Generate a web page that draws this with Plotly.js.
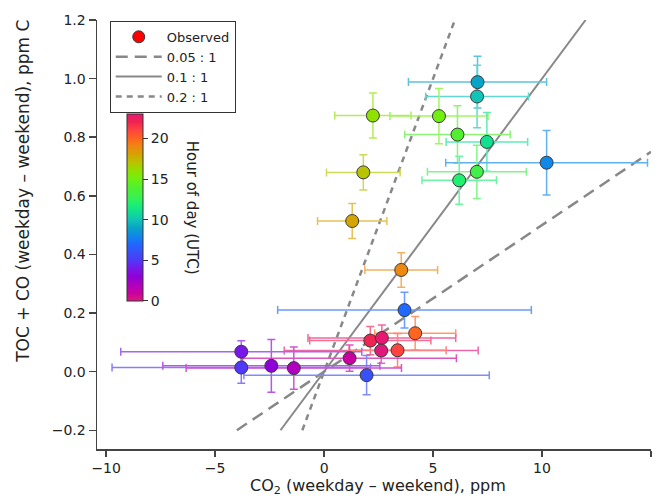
<!DOCTYPE html>
<html>
<head>
<meta charset="utf-8">
<script src="https://cdn.plot.ly/plotly-3.0.1.min.js"></script>
<style>html,body{margin:0;padding:0;background:#fff;}#chart{width:659px;height:498px;}</style>
</head>
<body>
<div id="chart"></div>
<script>
// ---- data ----
const co2      = [7.04, 7.02, 2.24, 5.27, 6.12, 7.47, 10.21, 7.01, 6.20, 1.80, 1.29, 3.54, 3.69, 4.18, 2.12, 2.65, 2.62, 3.37, 1.17, 1.95, -3.80, -3.80, -2.42, -1.39];
const tocco    = [0.988, 0.939, 0.874, 0.872, 0.809, 0.784, 0.713, 0.682, 0.653, 0.680, 0.514, 0.347, 0.210, 0.131, 0.106, 0.115, 0.072, 0.073, 0.046, -0.012, 0.068, 0.014, 0.020, 0.012];
const co2Err   = [3.17, 2.36, 1.75, 2.25, 2.42, 1.87, 4.63, 2.27, 1.71, 1.69, 1.59, 1.67, 5.82, 1.86, 2.78, 3.39, 4.45, 2.23, 4.90, 5.63, 5.53, 5.93, 4.98, 4.94];
const toccoErr = [0.088, 0.107, 0.077, 0.094, 0.098, 0.100, 0.110, 0.091, 0.082, 0.060, 0.060, 0.059, 0.061, 0.057, 0.048, 0.044, 0.043, 0.057, 0.045, 0.067, 0.037, 0.054, 0.090, 0.072];
const hourUTC  = [9, 10, 16, 15, 14, 11, 8, 13, 12, 17, 18, 19, 7, 20, 22, 23, 0, 21, 1, 6, 4, 5, 3, 2];

const ratioSlopes = [0.05, 0.1, 0.2];
const ratioNames  = ['0.05 : 1', '0.1 : 1', '0.2 : 1'];
const ratioYLimits = [-0.2, 1.2];

const xTitle = 'CO<sub>2</sub> (weekday \u2013 weekend), ppm';
const yTitle = 'TOC + CO (weekday \u2013 weekend), ppm C';
const cbTitle = 'Hour of day (UTC)';

// ---- styling ----
const hourMax = 23;
const colorStops = [
  [0,'#e0187c'],[1,'#c800a0'],[2,'#b000c0'],[3,'#9000d8'],[4,'#7818e8'],[5,'#5038f8'],
  [6,'#3850f8'],[7,'#2068ff'],[8,'#1088e8'],[9,'#08a4c8'],[10,'#10c4b8'],[11,'#10e090'],
  [12,'#20f070'],[13,'#40f048'],[14,'#50f030'],[15,'#70f010'],[16,'#90e000'],[17,'#b8c400'],
  [18,'#d4a400'],[19,'#ee8810'],[20,'#ff6420'],[21,'#ff4440'],[22,'#f02450'],[23,'#e81870']
];
const colorscale = colorStops.map(s => [s[0]/hourMax, s[1]]);

function hexRgb(h){ return [parseInt(h.slice(1,3),16),parseInt(h.slice(3,5),16),parseInt(h.slice(5,7),16)]; }
function colorAt(v){
  const t = Math.max(0, Math.min(1, v/hourMax));
  for (let i=0;i<colorscale.length-1;i++){
    const a=colorscale[i], b=colorscale[i+1];
    if (t>=a[0] && t<=b[0]){
      const f=(t-a[0])/((b[0]-a[0])||1);
      const ca=hexRgb(a[1]), cb=hexRgb(b[1]);
      return ca.map((c,k)=>c+(cb[k]-c)*f);
    }
  }
  return hexRgb(colorscale[colorscale.length-1][1]);
}
function lighten(rgb, w){ return 'rgb('+rgb.map(c=>Math.round(c*w+255*(1-w))).join(',')+')'; }

const FONT = 'DejaVu Sans, Verdana, sans-serif';
const traces = [];

// ratio lines
const dashes = ['12px,7px', 'solid', '6px,5px'];
ratioSlopes.forEach((s, i) => {
  const x0 = ratioYLimits[0]/s;
  const x1 = Math.min(ratioYLimits[1]/s, 15);
  traces.push({
    x: [x0, x1], y: [s*x0, s*x1], mode: 'lines', name: ratioNames[i],
    line: {color: '#888888', width: i===1 ? 2 : 2.5, dash: dashes[i]},
    hoverinfo: 'skip', legendrank: 2+i
  });
});

// error bars, one trace per point to colour each
co2.forEach((xv, i) => {
  const c = lighten(colorAt(hourUTC[i]), 0.66);
  traces.push({
    x: [xv], y: [tocco[i]], mode: 'markers', showlegend: false, hoverinfo: 'skip',
    marker: {size: 1, opacity: 0},
    error_x: {type: 'data', array: [co2Err[i]], color: c, thickness: 1.5, width: 4},
    error_y: {type: 'data', array: [toccoErr[i]], color: c, thickness: 1.5, width: 4}
  });
});

// markers coloured by hour
traces.push({
  x: co2, y: tocco, mode: 'markers', showlegend: false, name: 'Observed',
  marker: {
    size: 13, color: hourUTC, colorscale: colorscale, cmin: 0, cmax: hourMax,
    line: {color: '#3a3a3a', width: 1},
    colorbar: {
      x: 0.054, xanchor: 'left', xpad: 0, y: 0.563, yanchor: 'middle', ypad: 0,
      len: 0.436, lenmode: 'fraction', thickness: 16, thicknessmode: 'pixels',
      outlinewidth: 1, outlinecolor: '#333',
      ticks: 'outside', ticklen: 5, tickcolor: '#333', tickvals: [0,5,10,15,20],
      tickfont: {family: FONT, size: 14, color: '#222'}
    }
  }
});

// legend entry for observed
traces.push({
  x: [null], y: [null], mode: 'markers', name: 'Observed', legendrank: 1,
  marker: {size: 12, color: '#ff0000', line: {color: '#3a3a3a', width: 1}}
});

const layout = {
  width: 659, height: 498,
  margin: {l: 97, r: 8, t: 20, b: 49},
  paper_bgcolor: '#fff', plot_bgcolor: '#fff',
  font: {family: FONT, size: 14, color: '#222'},
  showlegend: true,
  legend: {
    x: 0.023, y: 0.998, xanchor: 'left', yanchor: 'top',
    bgcolor: '#fff', bordercolor: '#333', borderwidth: 1,
    font: {family: FONT, size: 13, color: '#222'},
    tracegroupgap: 0, itemwidth: 46
  },
  xaxis: {
    range: [-10.42, 15], showgrid: false, zeroline: false,
    showline: true, linecolor: '#444', linewidth: 1.5,
    ticks: 'outside', ticklen: 6, tickcolor: '#444', tickwidth: 1.5, dtick: 5, tick0: 0,
    tickfont: {family: FONT, size: 14, color: '#222'}
  },
  yaxis: {
    range: [-0.264, 1.2], showgrid: false, zeroline: false,
    showline: true, linecolor: '#444', linewidth: 1.5,
    ticks: 'outside', ticklen: 7, tickcolor: '#444', tickwidth: 1.5, dtick: 0.2, tick0: 0, tickformat: '.1f',
    tickfont: {family: FONT, size: 14, color: '#222'}
  },
  annotations: [
    {text: xTitle, xref: 'paper', yref: 'paper', x: 0.507, y: -0.088, xanchor: 'center', yanchor: 'middle',
     showarrow: false, borderpad: 0, font: {family: FONT, size: 16, color: '#222'}},
    {text: yTitle, xref: 'paper', yref: 'paper', x: -0.135, y: 0.60, xanchor: 'center', yanchor: 'middle',
     textangle: -90, showarrow: false, font: {family: FONT, size: 17, color: '#222'}},
    {text: cbTitle, xref: 'paper', yref: 'paper', x: 0.171, y: 0.563, xanchor: 'center', yanchor: 'middle',
     textangle: 90, showarrow: false, font: {family: FONT, size: 15, color: '#222'}}
  ]
};

Plotly.newPlot('chart', traces, layout, {displayModeBar: false, staticPlot: true});
</script>
</body>
</html>
